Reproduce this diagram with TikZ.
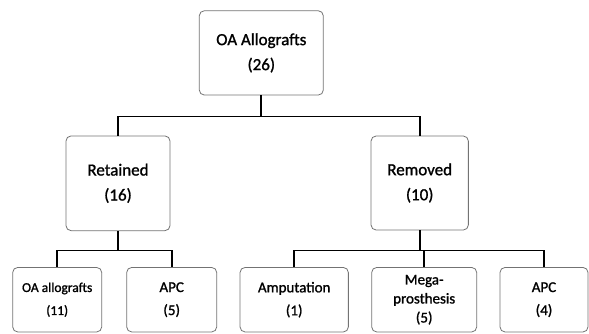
\documentclass[tikz,border=0pt]{standalone}
\usepackage{fontspec}
\setmainfont{Carlito}[FakeBold=1.2]
\usepackage{tikz}

\begin{document}
\begin{tikzpicture}[x=1pt, y=-1pt,
    box/.style={draw=black!55, line width=0.8pt, rectangle, rounded corners=5pt, align=center, inner sep=0pt, text=black},
    bigbox/.style={box, font=\fontsize{17}{25}\selectfont},
    smallbox/.style={box, minimum height=64.5pt, font=\fontsize{15}{23}\selectfont},
    conn/.style={line width=1.7pt, black}]
                  \useasboundingbox (0,0) rectangle (589,333);
                  % Nodes, first level
                  \node [bigbox, minimum width=124pt, minimum height=84.3pt] (oatotal) at (261.3,52.9) {OA Allografts\\(26)};
                  % Nodes, second level
                  \node [bigbox, minimum width=104pt, minimum height=94.7pt] (retained) at (118,183.3) {Retained\\(16)};
                  \node [bigbox, minimum width=97.3pt, minimum height=94pt] (removed) at (419.7,183) {Removed\\(10)};
                  % Nodes, third level
                  \node [smallbox, minimum width=89pt, font=\fontsize{13.5}{23}\selectfont] (oaallo) at (57.2,299.7) {OA allografts\\(11)};
                  \node [smallbox, minimum width=90pt] (apcret) at (171.7,299.7) {APC\\(5)};
                  \node [smallbox, minimum width=108.3pt] (amput) at (294.2,299.7) {Amputation\\(1)};
                  \node [smallbox, minimum width=105pt, font=\fontsize{15}{19}\selectfont] (mega) at (424.2,299.7) {Mega-\\prosthesis\\(5)};
                  \node [smallbox, minimum width=88pt] (apcrem) at (544,299.7) {APC\\(4)};

                  % Lines
                  \draw [conn] (oatotal.south) -- ++(0,21) -| (retained.north);
                  \draw [conn] (oatotal.south) -- ++(0,21) -| (removed.north);
                  \draw [conn] (retained.south) -- ++(0,19.5) -| (oaallo.north);
                  \draw [conn] (retained.south) -- ++(0,19.5) -| (apcret.north);
                  \draw [conn] (removed.south) -- ++(0,20) -| (amput.north);
                  \draw [conn] (removed.south) -- ++(0,20) -| (mega.north);
                  \draw [conn] (removed.south) -- ++(0,20) -| (apcrem.north);
              \end{tikzpicture}
\end{document}
